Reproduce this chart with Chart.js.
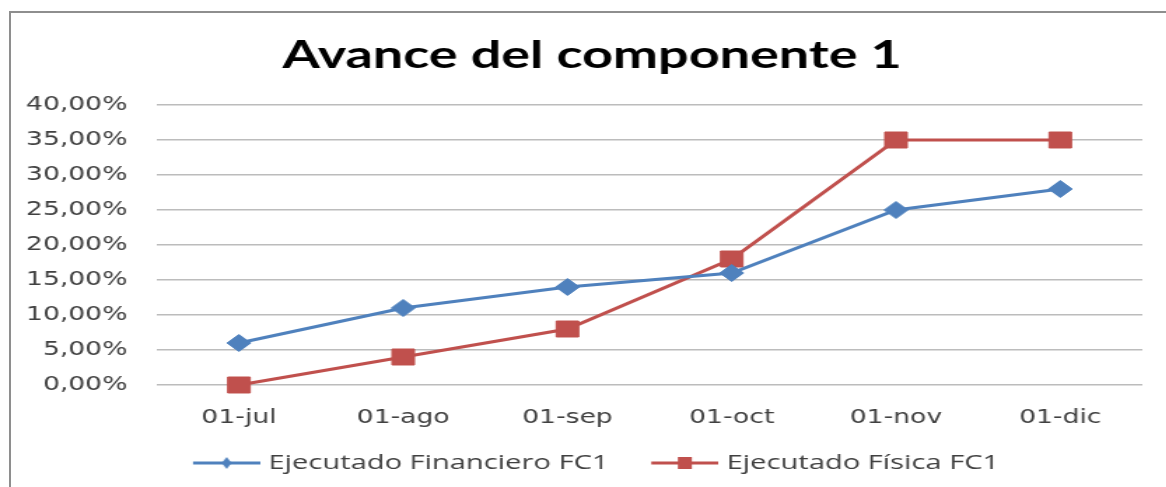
<!DOCTYPE html>
<html>
<head>
<meta charset="utf-8">
<script src="https://cdn.jsdelivr.net/npm/chart.js@4"></script>
<style>
  body { margin: 0; background: #fff; overflow: hidden; }
  #wrap { position: absolute; left: 0; top: 0; width: 833px; height: 487px; transform: scaleX(1.4); transform-origin: 0 0; }
  #frame { position: absolute; left: 9px; top: 11px; width: 1200px; height: 520px; border-left: 2px solid #8e8e8e; border-top: 2px solid #8e8e8e; pointer-events: none; }
  canvas { display: block; }
</style>
</head>
<body>
<div id="wrap"><canvas id="myChart" width="833" height="487"></canvas></div>
<div id="frame"></div>
<script>
const titleText = 'Avance del componente 1';
const categories = ['01-jul', '01-ago', '01-sep', '01-oct', '01-nov', '01-dic'];
const financiero = [6, 11, 14, 16, 25, 28];
const fisica = [0, 4, 8, 18, 35, 35];
const seriesNames = ['Ejecutado Financiero FC1', 'Ejecutado Física FC1'];

const blue = '#4f81bd';
const red = '#c0504d';

// legend sample: line with small marker in the middle (excel style)
// left part of the canvas is left empty to get the gap between the two items
function legendIcon(color, shape) {
    const c = document.createElement('canvas');
    c.width = 58; c.height = 16;
    const g = c.getContext('2d');
    g.strokeStyle = color; g.fillStyle = color; g.lineWidth = 3;
    g.beginPath(); g.moveTo(10, 8); g.lineTo(58, 8); g.stroke();
    g.beginPath();
    if (shape === 'diamond') {
        g.moveTo(34, 2); g.lineTo(37.5, 8); g.lineTo(34, 14); g.lineTo(30.5, 8);
        g.closePath();
    } else {
        g.rect(29, 2, 10, 12);
    }
    g.fill();
    return c;
}
const icons = [legendIcon(blue, 'diamond'), legendIcon(red, 'rect')];

const ctx = document.getElementById('myChart');

new Chart(ctx, {
    type: 'line',
    data: {
        labels: categories,
        datasets: [{
            label: seriesNames[0],
            data: financiero,
            borderColor: blue,
            backgroundColor: blue,
            borderWidth: 3,
            pointStyle: 'rectRot',
            pointRadius: 8.5,
            pointBorderWidth: 1,
            tension: 0,
            clip: false
        }, {
            label: seriesNames[1],
            data: fisica,
            borderColor: red,
            backgroundColor: red,
            borderWidth: 3,
            pointStyle: 'rect',
            pointRadius: 11.3,
            pointBorderWidth: 1,
            tension: 0,
            clip: false
        }]
    },
    options: {
        responsive: false,
        animation: false,
        layout: { padding: { left: 13, right: 0, top: 10, bottom: 3.6 } },
        plugins: {
            title: {
                display: true,
                text: titleText,
                color: '#000',
                font: { family: 'Lato', size: 38.5, weight: 'bold' },
                padding: { top: 22, bottom: 26.8 }
            },
            legend: {
                position: 'bottom',
                labels: {
                    usePointStyle: true,
                    pointStyleWidth: 49,
                    padding: 25,
                    color: '#404040',
                    font: { family: 'Open Sans', size: 20.8 },
                    generateLabels: (chart) => {
                        const items = Chart.defaults.plugins.legend.labels.generateLabels(chart);
                        items.forEach((it, i) => { it.pointStyle = icons[i]; });
                        return items;
                    }
                }
            },
            tooltip: { enabled: false }
        },
        scales: {
            x: {
                offset: true,
                grid: { display: false, drawTicks: false },
                border: { display: false },
                ticks: { color: '#404040', padding: 22, font: { family: 'DejaVu Sans', size: 19 } },
                afterFit: (scale) => { scale.height = 42.6; }
            },
            y: {
                min: 0,
                max: 40,
                grid: { color: '#bcbcbc', lineWidth: 1.5, drawTicks: false },
                border: { display: false },
                ticks: {
                    stepSize: 5,
                    color: '#404040',
                    padding: 21,
                    font: { family: 'DejaVu Sans', size: 19 },
                    callback: (v) => v.toFixed(2).replace('.', ',') + '%'
                },
                afterFit: (scale) => { scale.width = 99; }
            },
            // empty right margin so the title sits where it does in the original
            yRight: {
                position: 'right',
                grid: { display: false, drawTicks: false },
                border: { display: false },
                ticks: { display: false },
                afterFit: (scale) => { scale.width = 17; }
            }
        }
    }
});
</script>
</body>
</html>
